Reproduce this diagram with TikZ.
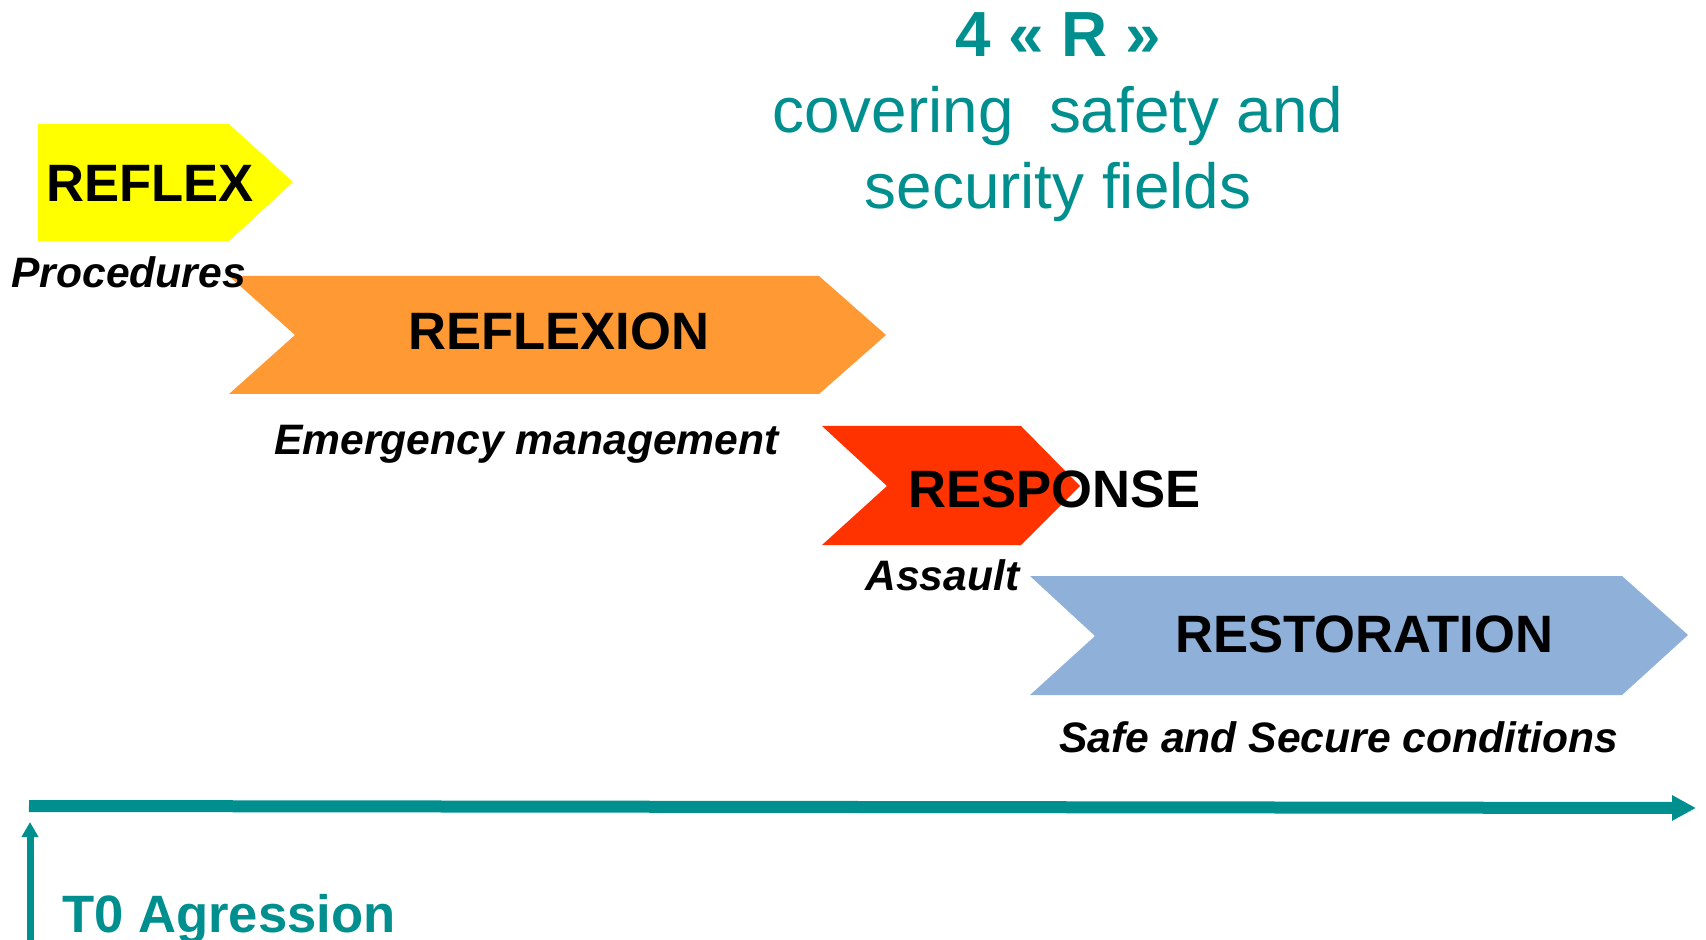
\documentclass[tikz,border=0pt]{standalone}
\usepackage{fontspec}
\setmainfont{Liberation Sans}
\usetikzlibrary{arrows.meta}
\definecolor{rteal}{RGB}{0,143,143}
\definecolor{reflexyellow}{RGB}{255,255,0}
\definecolor{reflexorange}{RGB}{255,153,51}
\definecolor{responsered}{RGB}{255,51,0}
\definecolor{restoreblue}{RGB}{143,176,216}
\tikzset{
  phase/.style={font=\fontsize{26.3}{31}\selectfont\bfseries, inner sep=0pt, anchor=base west},
  sublabel/.style={font=\fontsize{21.3}{25}\selectfont\bfseries\itshape, inner sep=0pt, anchor=base west},
}
\begin{document}
\begin{tikzpicture}[x=0.5pt,y=-0.5pt]
\useasboundingbox (0,0) rectangle (1706,940);
% the four R
\fill[reflexyellow] (38,124) -- (229,124) -- (293,182) -- (229,241) -- (38,241) -- cycle;
\fill[reflexorange] (229,276) -- (819,276) -- (886,335) -- (819,394) -- (229,394) -- (295,335) -- cycle;
\fill[responsered] (822,426) -- (1021,426) -- (1080,486) -- (1021,545) -- (822,545) -- (887,486) -- cycle;
\fill[restoreblue] (1030,576) -- (1622,576) -- (1688,635) -- (1622,695) -- (1030,695) -- (1095,636) -- cycle;
\node[phase] (reflex) at (46,202) {REFLEX};
\node[sublabel] (procedures) at (11,288) {Procedures};
\node[phase] (reflexion) at (408,350) {REFLEXION};
\node[sublabel] (emergency) at (274,455) {Emergency management};
\node[phase] (response) at (908,507) {RESPONSE};
\node[sublabel] (assault) at (865,590) {Assault};
\node[phase] (restoration) at (1175,652) {RESTORATION};
\node[sublabel] (safe) at (1059,752) {Safe and Secure conditions};
% title
\node[font=\fontsize{31.9}{38}\selectfont, text=rteal, align=center, inner sep=0pt, anchor=base] (title) at (1058,209)
  {\textbf{4 « R »}\\covering\ \ safety and\\security fields};
% time line
\coordinate (tstart) at (29,806);
\coordinate (tend) at (1696,808);
\draw[rteal, line width=6pt, -{Triangle[length=12pt,width=12pt]}] (tstart) -- (tend);
\coordinate (agrfoot) at (30,940);
\coordinate (agrtip) at (30,822);
\draw[rteal, line width=3.5pt, -{Triangle[length=7.5pt,width=8pt]}] (agrfoot) -- (agrtip);
\node[phase, text=rteal] (agression) at (62,932) {T0 Agression};
\end{tikzpicture}
\end{document}
